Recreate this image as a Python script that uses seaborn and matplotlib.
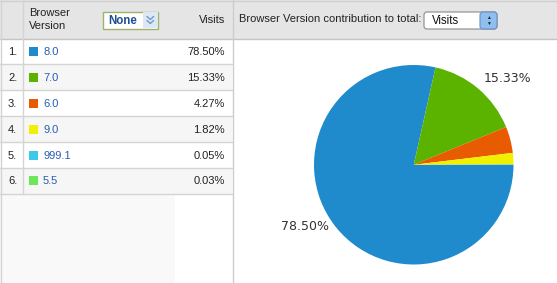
import matplotlib
matplotlib.use("Agg")
import matplotlib.pyplot as plt
import seaborn as sns
import pandas as pd
from matplotlib.patches import Rectangle, FancyBboxPatch

# ---- data ----
versions = ["8.0", "7.0", "6.0", "9.0", "999.1", "5.5"]
visits_pct = [78.50, 15.33, 4.27, 1.82, 0.05, 0.03]
colors = ["#1f8bcd", "#5bb300", "#e85b00", "#f0f000", "#3ec9e9", "#6ee65c"]
pie_label_text = ["78.50%", "15.33%"]

sns.set_theme(style="white")
plt.rcParams['font.family'] = ['Liberation Sans', 'DejaVu Sans']

W, H = 557, 283
fig = plt.figure(figsize=(W / 100, H / 100), dpi=100)
bg = fig.add_axes([0, 0, 1, 1])

line_c = "#d4d4d4"
head_c = "#e5e5e5"
fs = 8

# header band
bg.add_patch(Rectangle((0, 0), W, 38.5, color=head_c, lw=0, zorder=0))
bg.plot([0, W], [1, 1], color="#cfcfcf", lw=1)
bg.plot([0, W], [38.5, 38.5], color="#c4c4c4", lw=1)

# table rows
top, row_h = 38.5, 25.9
df = pd.DataFrame({"version": versions, "pct": visits_pct})
df["y"] = [top + (i + 0.5) * row_h for i in range(len(df))]
for i in range(len(df)):
    y0 = top + i * row_h
    bg.add_patch(Rectangle((0, y0), 232, row_h,
                           color="white" if i % 2 == 0 else "#f6f6f6", lw=0, zorder=0))
    bg.plot([0, 232], [y0 + row_h, y0 + row_h], color=line_c, lw=1)
table_bottom = top + len(df) * row_h
bg.add_patch(Rectangle((0, table_bottom), 175, H - table_bottom, color="#f9f9f9", lw=0, zorder=0))
bg.plot([0.5, 0.5], [0, H], color=line_c, lw=1)
bg.plot([22.5, 22.5], [0, table_bottom], color=line_c, lw=1)
bg.plot([232.5, 232.5], [0, H], color="#cccccc", lw=1)

# swatches via seaborn
sns.scatterplot(data=df.assign(x=33.5), x="x", y="y", hue="version", palette=colors,
                marker="s", s=42, linewidth=0, legend=False, ax=bg, zorder=3)
bg.set_xlim(0, W)
bg.set_ylim(H, 0)
bg.axis('off')

for i, r in df.iterrows():
    bg.text(8, r.y + 0.5, f"{i + 1}.", fontsize=fs, va="center", ha="left", color="#222222")
    bg.text(43, r.y + 0.5, r.version, fontsize=fs, va="center", ha="left", color="#2a5db0")
    bg.text(225, r.y + 0.5, f"{r.pct:.2f}%", fontsize=fs, va="center", ha="right", color="#222222")

# left header
bg.text(29, 13.5, "Browser", fontsize=fs, va="center", ha="left", color="#222222")
bg.text(29, 26, "Version", fontsize=fs, va="center", ha="left", color="#222222")
bg.text(225, 20, "Visits", fontsize=fs, va="center", ha="right", color="#222222")
bg.add_patch(Rectangle((102.5, 11.5), 55, 17, facecolor="white", edgecolor="#9fb26a", lw=1, zorder=2))
bg.add_patch(Rectangle((143, 12), 14.5, 16, facecolor="#dde8f4", lw=0, zorder=2))
bg.text(108, 20.5, "None", fontsize=8.3, fontweight="bold", va="center", ha="left",
        color="#1f4f96", zorder=3)
for dy in (16.5, 20.5):
    bg.plot([147, 150.3, 153.6], [dy, dy + 3, dy], color="#6f9ad0", lw=1, zorder=4,
            solid_capstyle="round")

# right header
bg.text(239, 19.5, "Browser Version contribution to total:", fontsize=fs, va="center",
        ha="left", color="#222222")
bg.add_patch(FancyBboxPatch((424, 12), 73, 17, boxstyle="round,pad=0,rounding_size=3",
                            facecolor="white", edgecolor="#8a8a8a", lw=0.8, zorder=2))
bg.add_patch(FancyBboxPatch((480, 12), 17, 17, boxstyle="round,pad=0,rounding_size=3",
                            facecolor="#8fbff0", edgecolor="#6a8fc0", lw=0.8, zorder=3))
bg.text(432, 20.5, "Visits", fontsize=8.3, va="center", ha="left", color="#111111", zorder=4)
bg.text(488.5, 17.8, "▲", fontsize=3.5, va="center", ha="center", color="#222222", zorder=4)
bg.text(488.5, 23.2, "▼", fontsize=3.5, va="center", ha="center", color="#222222", zorder=4)

# pie
pax = fig.add_axes([314 / W, (H - 264.5) / H, 199.5 / W, 199.5 / H])
pax.pie(df["pct"], colors=colors, startangle=0, counterclock=False,
        wedgeprops=dict(linewidth=0))
pax.set_xlim(-1, 1)
pax.set_ylim(-1, 1)
pax.set_aspect("equal")
pax.axis('off')

label_pos = [(305, 227), (507.5, 79)]
for txt, (lx, ly) in zip(pie_label_text, label_pos):
    fig.text(lx / W, 1 - ly / H, txt, fontsize=9, va="center", ha="center", color="#333333",
             family="DejaVu Sans", zorder=10)

fig.savefig("out.png", dpi=100)
